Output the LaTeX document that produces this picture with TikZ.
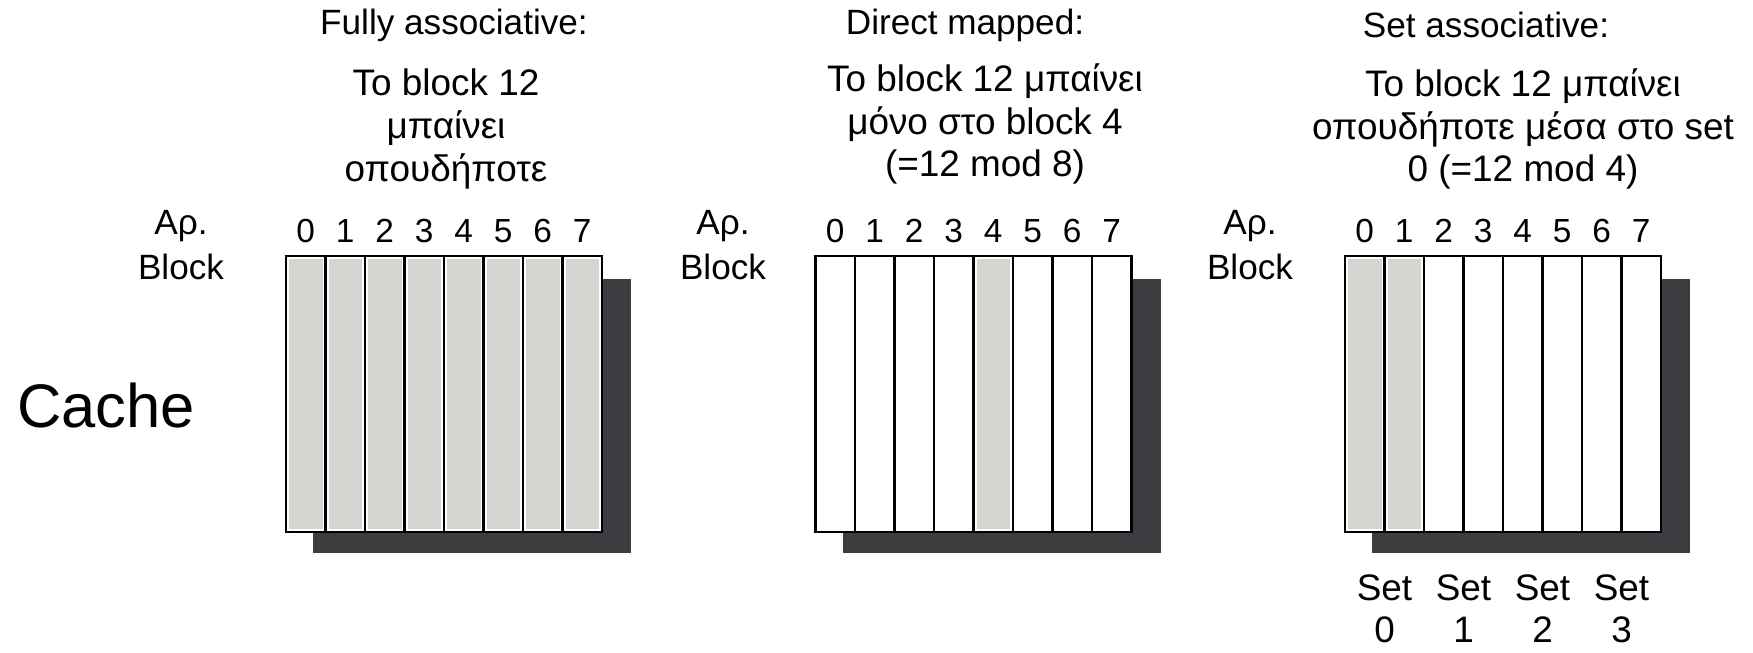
\documentclass[tikz,border=0pt]{standalone}
\usepackage{fontspec}
\setmainfont{Liberation Sans}
\definecolor{cellgray}{RGB}{211,214,209}
\definecolor{shadowgray}{RGB}{62,60,64}

\begin{document}
\begin{tikzpicture}[x=0.02cm,y=-0.02cm,
    title/.style={font=\fontsize{20}{24}\selectfont},
    note/.style={align=center,font=\fontsize{21}{24.4}\selectfont},
    blocklabel/.style={align=center,font=\fontsize{20}{25.5}\selectfont},
    digit/.style={font=\fontsize{19}{19}\selectfont},
    setlabel/.style={align=center,font=\fontsize{21}{23.8}\selectfont},
    cell/.style={draw,line width=1.4pt}]
    \useasboundingbox (0,0) rectangle (1753,652);
    % nodes
    \node[title] (fa-title) at (454,25) {Fully associative:};
    \node[title] (dm-title) at (965,25) {Direct mapped:};
    \node[title] (sa-title) at (1486,25) {Set associative:};
    \node[note] (fa-note) at (446,129) {Το block 12\\μπαίνει\\οπουδήποτε};
    \node[note] (dm-note) at (985,124) {Το block 12 μπαίνει\\μόνο στο block 4\\(=12 mod 8)};
    \node[note] (sa-note) at (1523,129) {Το block 12 μπαίνει\\οπουδήποτε μέσα στο set\\0 (=12 mod 4)};
    \node[blocklabel] (fa-lbl) at (181,245) {Αρ.\\Block};
    \node[blocklabel] (dm-lbl) at (723,245) {Αρ.\\Block};
    \node[blocklabel] (sa-lbl) at (1250,245) {Αρ.\\Block};
    \node[font=\fontsize{35}{35}\selectfont] (cache) at (106,406) {Cache};
    % caches
    \foreach \L/\shaded/\nm in {286/{0,...,7}/fa, 815.5/{4}/dm, 1345/{0,1}/sa} {
        \fill[shadowgray] ({\L+27},279) rectangle ({\L+345},553);
        \fill[white] (\L,256) rectangle ++(316,276);
        \foreach \j in \shaded
            \fill[cellgray] ({\L+39.5*\j+3},259) rectangle ({\L+39.5*(\j+1)-3},529);
        \draw[cell] (\L,256) rectangle ++(316,276);
        \foreach \i in {1,...,7}
            \draw[cell] ({\L+39.5*\i},256) -- ++(0,276);
        \foreach \i in {0,...,7}
            \node[digit] (\nm-d\i) at ({\L+39.5*\i+19.75},231) {\i};
    }
    % sets
    \foreach \k in {0,...,3}
        \node[setlabel] (set\k) at ({1345+79*\k+39.5},609) {Set\\\k};
\end{tikzpicture}
\end{document}
